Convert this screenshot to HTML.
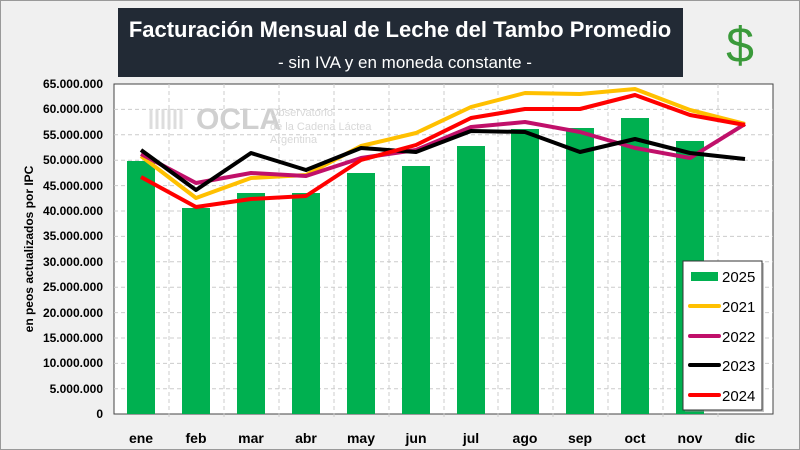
<!DOCTYPE html><html><head><style>body{margin:0;background:#f0f0f0}svg{display:block}</style></head><body>
<svg width="800" height="450" xmlns="http://www.w3.org/2000/svg" font-family="Liberation Sans, sans-serif">
<rect x="0.5" y="0.5" width="799" height="449" fill="#f0f0f0" stroke="#999"/>
<rect x="118" y="8" width="565" height="69" fill="#222a35"/>
<text x="400" y="37" fill="#fff" font-size="22" font-weight="bold" text-anchor="middle">Facturación Mensual de Leche del Tambo Promedio</text>
<text x="405" y="68" fill="#fff" font-size="17" text-anchor="middle">- sin IVA y en moneda constante -</text>
<text x="740" y="62" fill="#3a9a3a" font-size="50" text-anchor="middle">$</text>
<rect x="114" y="84" width="659" height="330" fill="#fff" stroke="#444"/>
<g stroke="#ccc" stroke-dasharray="4,3">
<line x1="114" x2="773" y1="109.4" y2="109.4"/><line x1="114" x2="773" y1="134.8" y2="134.8"/><line x1="114" x2="773" y1="160.2" y2="160.2"/><line x1="114" x2="773" y1="185.6" y2="185.6"/><line x1="114" x2="773" y1="211" y2="211"/><line x1="114" x2="773" y1="236.4" y2="236.4"/><line x1="114" x2="773" y1="261.8" y2="261.8"/><line x1="114" x2="773" y1="287.2" y2="287.2"/><line x1="114" x2="773" y1="312.6" y2="312.6"/><line x1="114" x2="773" y1="338" y2="338"/><line x1="114" x2="773" y1="363.4" y2="363.4"/><line x1="114" x2="773" y1="388.8" y2="388.8"/>
<line y1="84" y2="420" x1="169" x2="169"/><line y1="84" y2="420" x1="224" x2="224"/><line y1="84" y2="420" x1="279" x2="279"/><line y1="84" y2="420" x1="334" x2="334"/><line y1="84" y2="420" x1="389" x2="389"/><line y1="84" y2="420" x1="444" x2="444"/><line y1="84" y2="420" x1="498" x2="498"/><line y1="84" y2="420" x1="553" x2="553"/><line y1="84" y2="420" x1="608" x2="608"/><line y1="84" y2="420" x1="663" x2="663"/><line y1="84" y2="420" x1="718" x2="718"/>
</g>
<path d="M151,129 v-20 m6,20 v-20 m6,20 v-20 m6,20 v-20 m6,20 v-20 m6,20 v-20" stroke="#ddd" stroke-width="3" fill="none"/>
<text x="196" y="129" fill="#d0d0d0" font-size="30" font-weight="bold">OCLA</text>
<text x="270" y="116" fill="#d8d8d8" font-size="11">Observatorio</text>
<text x="270" y="130" fill="#d8d8d8" font-size="11">de la Cadena Láctea</text>
<text x="270" y="143" fill="#d8d8d8" font-size="11">Argentina</text>
<g font-size="12" font-weight="bold" text-anchor="end" fill="#000">
<text x="103" y="88">65.000.000</text><text x="103" y="113">60.000.000</text><text x="103" y="139">55.000.000</text><text x="103" y="164">50.000.000</text><text x="103" y="190">45.000.000</text><text x="103" y="215">40.000.000</text><text x="103" y="240">35.000.000</text><text x="103" y="266">30.000.000</text><text x="103" y="291">25.000.000</text><text x="103" y="317">20.000.000</text><text x="103" y="342">15.000.000</text><text x="103" y="367">10.000.000</text><text x="103" y="393">5.000.000</text><text x="103" y="418">0</text>
</g>
<text transform="translate(33,249) rotate(-90)" font-size="12" font-weight="bold" text-anchor="middle">en peos actualizados por IPC</text>
<g font-size="14" font-weight="bold" text-anchor="middle">
<text x="141" y="443">ene</text><text x="196" y="443">feb</text><text x="251" y="443">mar</text><text x="306" y="443">abr</text><text x="361" y="443">may</text><text x="416" y="443">jun</text><text x="471" y="443">jul</text><text x="525" y="443">ago</text><text x="580" y="443">sep</text><text x="635" y="443">oct</text><text x="690" y="443">nov</text><text x="745" y="443">dic</text>
</g>
<g fill="#00b050">
<rect x="127" y="161" width="28" height="253"/><rect x="182" y="208" width="28" height="206"/><rect x="237" y="193" width="28" height="221"/><rect x="292" y="193" width="28" height="221"/><rect x="347" y="173" width="28" height="241"/><rect x="402" y="166" width="28" height="248"/><rect x="457" y="146" width="28" height="268"/><rect x="511" y="129" width="28" height="285"/><rect x="566" y="128" width="28" height="286"/><rect x="621" y="118" width="28" height="296"/><rect x="676" y="141" width="28" height="273"/>
</g>
<g fill="none" stroke-width="4" stroke-linejoin="round">
<polyline stroke="#ffc000" points="141,156 196,198 251,178 306,175 361,146 416,133 471,107 525,93 580,94 635,89 690,110 745,124"/>
<polyline stroke="#c0106a" points="141,154 196,183 251,173 306,176 361,158 416,150 471,127 525,122 580,132 635,148 690,158 745,124"/>
<polyline stroke="#000" points="141,150 196,190 251,153 306,170 361,148 416,152 471,131 525,132 580,152 635,139 690,153 745,159"/>
<polyline stroke="#ff0000" points="141,177 196,207 251,199 306,196 361,160 416,145 471,118 525,109 580,109 635,95 690,115 745,125"/>
</g>
<rect x="685" y="263" width="79" height="149" fill="#888" opacity="0.5"/>
<rect x="683" y="261" width="79" height="149" fill="#fff" stroke="#333"/>
<rect x="691" y="272" width="27" height="9" fill="#00b050"/>
<line x1="690" x2="719" y1="306" y2="306" stroke="#ffc000" stroke-width="4" stroke-linecap="round"/>
<line x1="690" x2="719" y1="336" y2="336" stroke="#c0106a" stroke-width="4" stroke-linecap="round"/>
<line x1="690" x2="719" y1="365" y2="365" stroke="#000" stroke-width="4" stroke-linecap="round"/>
<line x1="690" x2="719" y1="395" y2="395" stroke="#ff0000" stroke-width="4" stroke-linecap="round"/>
<g font-size="15" fill="#000"><text x="722" y="282">2025</text><text x="722" y="312">2021</text><text x="722" y="342">2022</text><text x="722" y="371">2023</text><text x="722" y="401">2024</text></g>
</svg></body></html>
